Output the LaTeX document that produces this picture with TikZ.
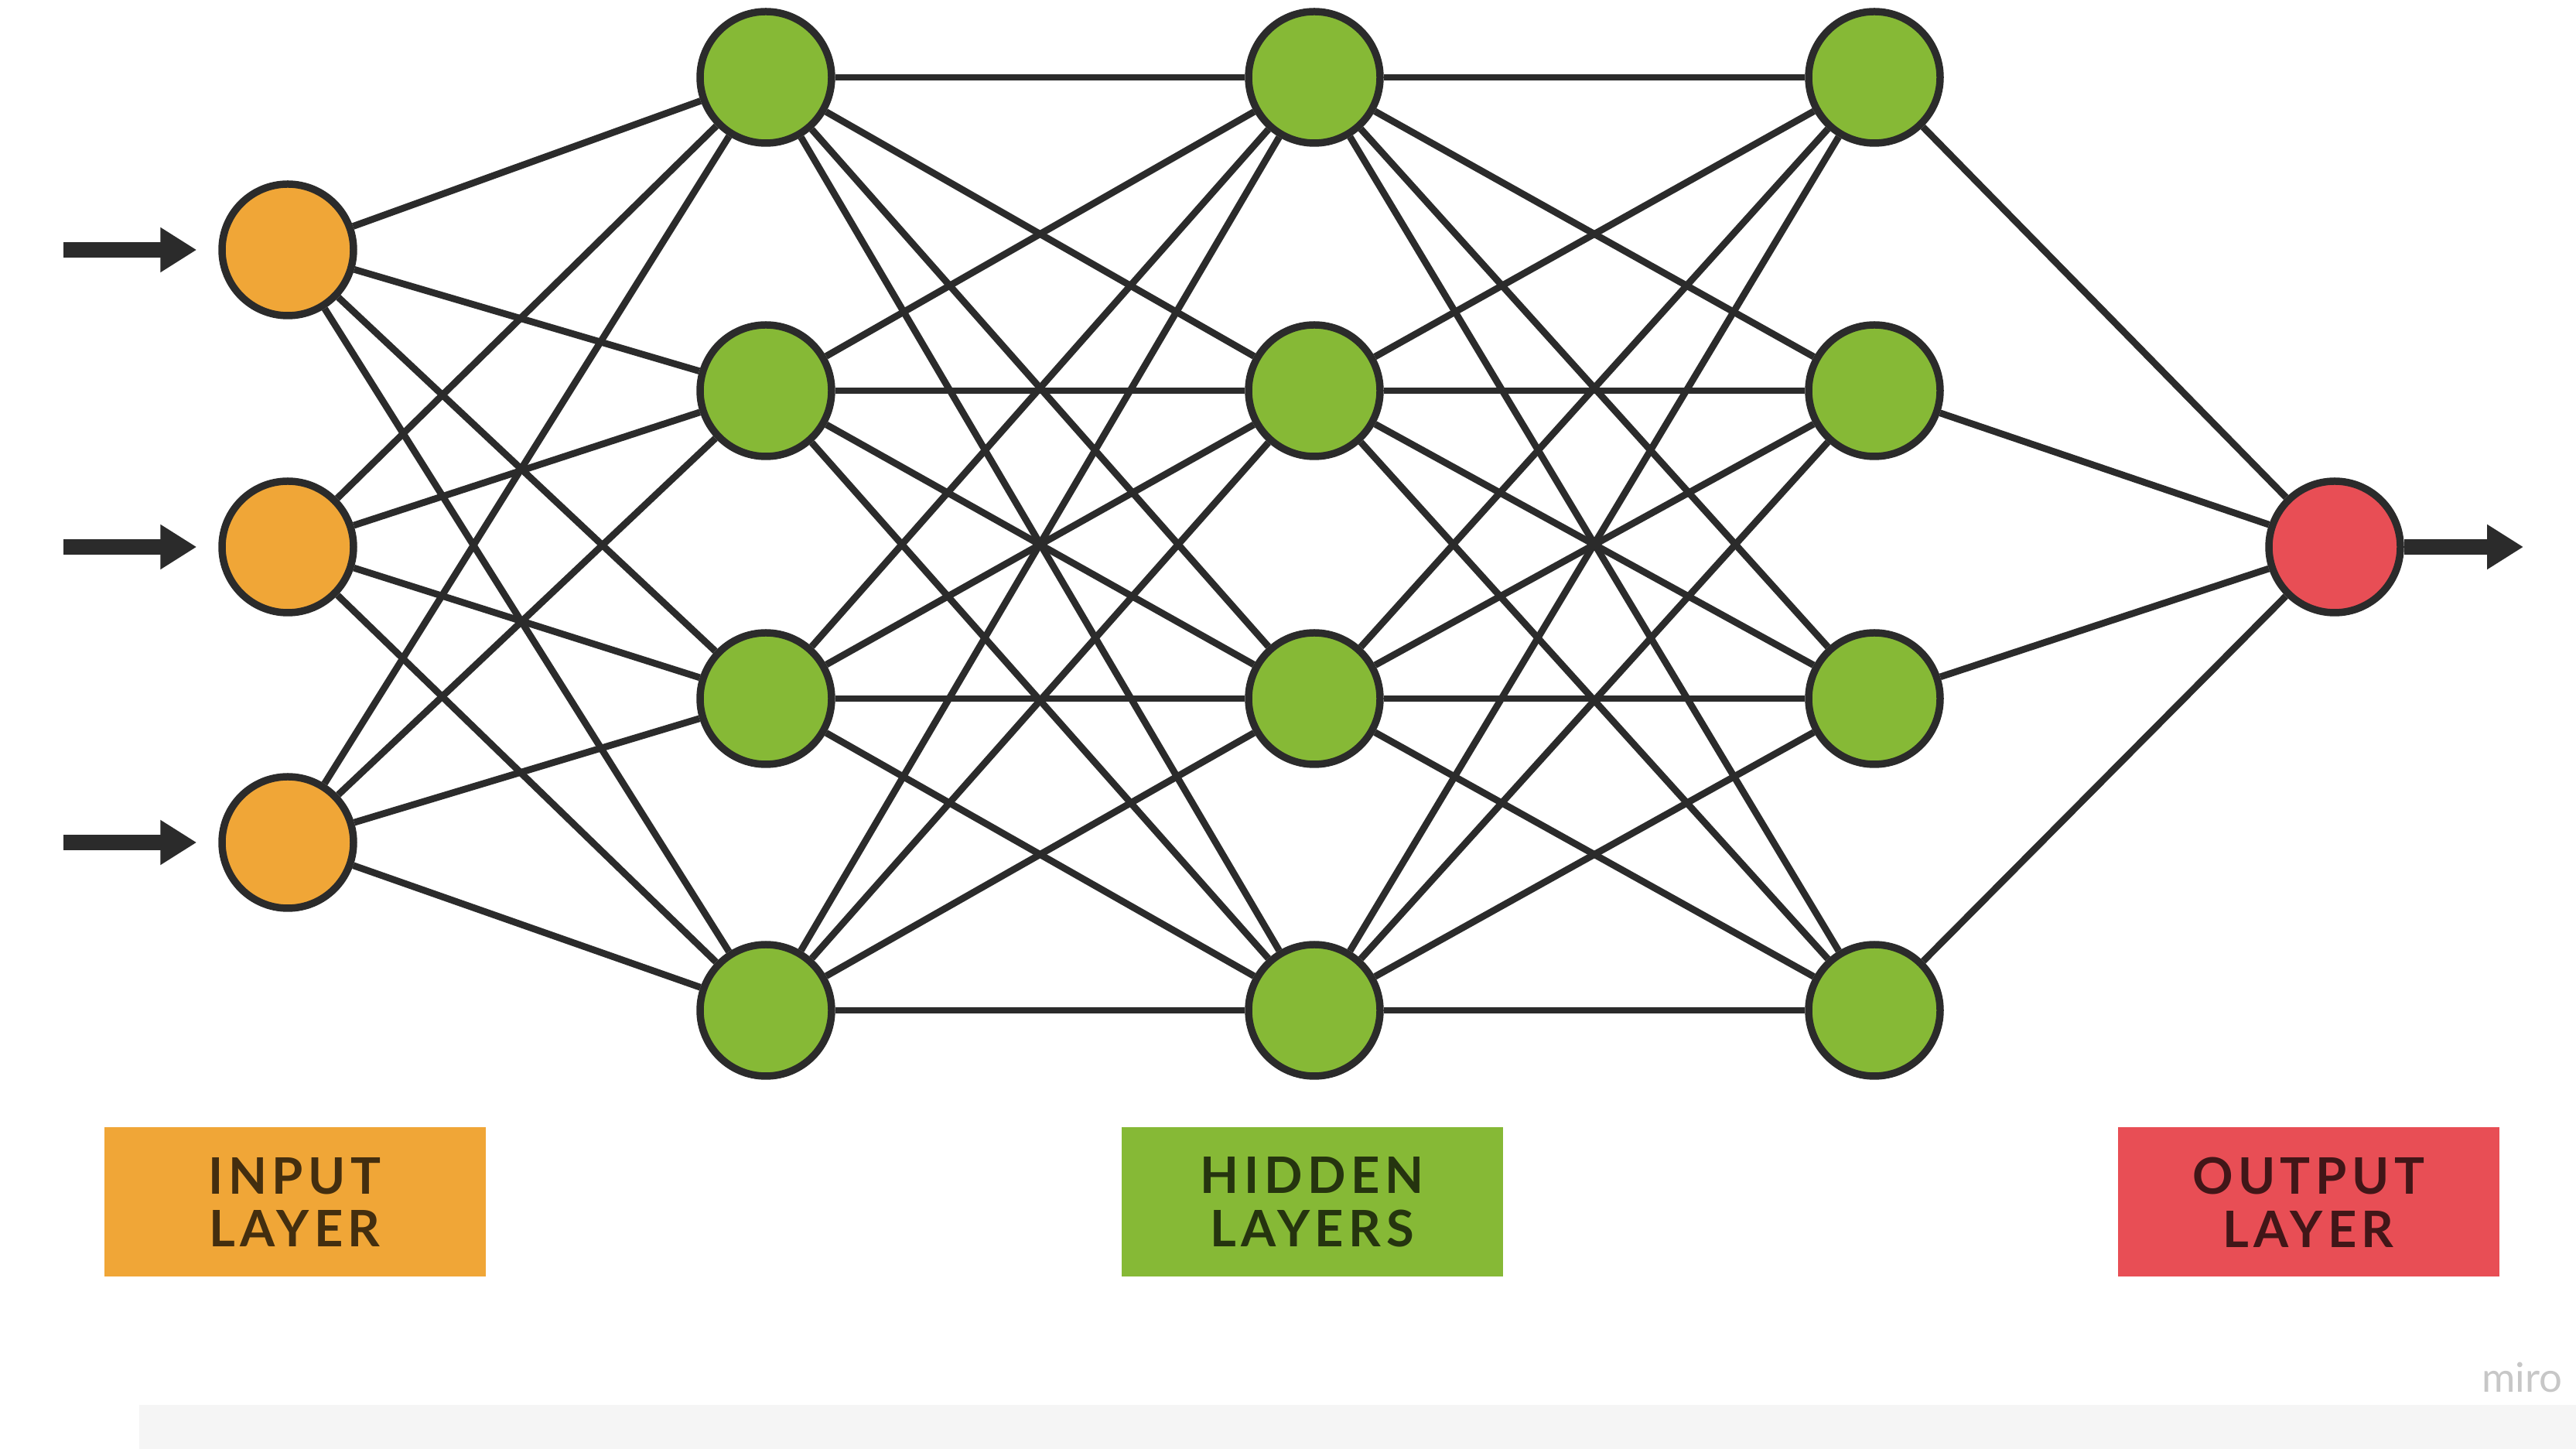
\documentclass[tikz,border=0pt]{standalone}
\usepackage{fontspec}
\setmainfont{Lato}
\usetikzlibrary{arrows.meta}
\usetikzlibrary{positioning}
\definecolor{inorange}{HTML}{F0A637}
\definecolor{hidgreen}{HTML}{86B936}
\definecolor{outred}{HTML}{E84E55}
\definecolor{edgegray}{HTML}{2B2B2B}

\begin{document}
\begin{tikzpicture}[neuron/.style={circle, draw=edgegray, line width=2.7pt, minimum size=1.7cm, inner sep=0pt},
    layerbox/.style={rectangle, minimum width=4.93cm, minimum height=1.93cm, inner sep=0pt, align=center, font=\fontsize{18.5}{19.5}\selectfont\bfseries\addfontfeatures{LetterSpace=10}}]
    \tikzset{link/.style={draw=edgegray, line width=2.5pt}}
    \tikzset{feed/.style={draw=edgegray, line width=5.6pt, -{Triangle[width=0.55cm,length=0.47cm]}}}
    \useasboundingbox (0,0) rectangle (33.3,18.73);
    \fill[white] (0,0) rectangle (33.3,18.73);
    \fill[black!4] (1.8,0) rectangle (33.3,0.57);
    \def \xi {3.72} \def \xa {9.90} \def \xb {16.99} \def \xc {24.23} \def \xo {30.18}
    % input layer
    \foreach \s/\y in {1/15.50, 2/11.66, 3/7.84} {
    \node[neuron, fill=inorange] (i\s) at (\xi,\y) {};
    \coordinate (in\s) at (0.82,\y);
    }
    % hidden layers
    \foreach \s/\y in {1/17.73, 2/13.68, 3/9.70, 4/5.67} {
    \node[neuron, fill=hidgreen] (a\s) at (\xa,\y) {};
    \node[neuron, fill=hidgreen] (b\s) at (\xb,\y) {};
    \node[neuron, fill=hidgreen] (c\s) at (\xc,\y) {};
    }
    % output layer
    \node[neuron, fill=outred] (o) at (\xo,11.66) {};
    \coordinate (out) at (32.62,11.66);
    
    \foreach \s in {1,2,3} {
    \draw[feed, shorten >=0.28cm] (in\s) -- (i\s);
    \foreach \t in {1,...,4} \draw[link] (i\s) -- (a\t);
    }
    \foreach \s in {1,...,4} {
    \foreach \t in {1,...,4} {
    \draw[link] (a\s) -- (b\t);
    \draw[link] (b\s) -- (c\t);
    }
    \draw[link] (c\s) -- (o);
    }
    \draw[feed] (o) -- (out);
    
    \node[layerbox, fill=inorange, text=black!72!inorange] (inlabel) at (3.81,3.19) {INPUT\\LAYER};
    \node[layerbox, fill=hidgreen, text=black!72!hidgreen] (hidlabel) at (16.96,3.19) {HIDDEN\\LAYERS};
    \node[layerbox, fill=outred, text=black!72!outred] (outlabel) at (29.84,3.19) {OUTPUT\\LAYER};
    \node[anchor=east, text=black!22, font=\fontsize{15}{18}\selectfont] (miro) at (33.25,0.93) {miro};
\end{tikzpicture}
\end{document}
